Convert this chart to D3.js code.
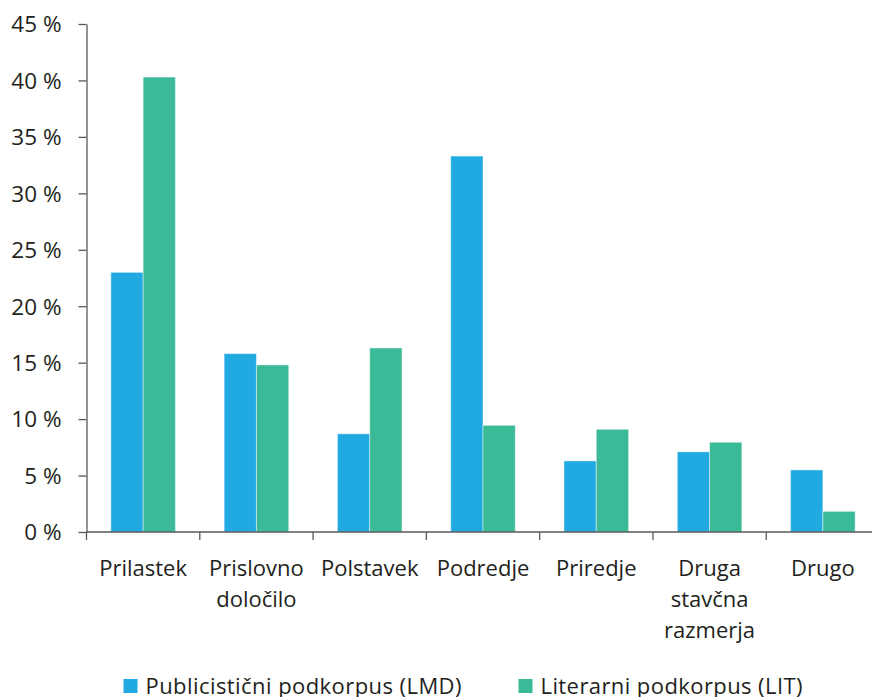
<!DOCTYPE html>
<html>
<head>
<meta charset="utf-8">
<script src="https://cdn.jsdelivr.net/npm/d3@7"></script>
<style>
  html, body { margin: 0; padding: 0; background: #fff; }
  svg { display: block; }
  text { font-family: "Open Sans", sans-serif; fill: #231f20; }
</style>
</head>
<body>
<svg id="chart" width="872" height="697"></svg>
<script>
// Categories (line breaks mark wrapped labels)
const categories = ["Prilastek", "Prislovno|določilo", "Polstavek", "Podredje", "Priredje", "Druga|stavčna|razmerja", "Drugo"];
const seriesNames = ["Publicistični podkorpus (LMD)", "Literarni podkorpus (LIT)"];
const lmdValues = [23.0, 15.8, 8.7, 33.3, 6.3, 7.1, 5.5];
const litValues = [40.3, 14.8, 16.3, 9.45, 9.1, 7.95, 1.83];
const yTicks = [0, 5, 10, 15, 20, 25, 30, 35, 40, 45];
const colors = ["#21a9e1", "#3aba96"];

const svg = d3.select("#chart");
const plotLeft = 86.5, plotRight = 879.5, plotTop = 24, plotBottom = 532;

const x = d3.scaleBand().domain(categories).range([plotLeft, plotRight]).padding(0);
const y = d3.scaleLinear().domain([0, 45]).range([plotBottom, plotTop]);
const barW = x.bandwidth() * 0.285;
const x1 = d3.scaleBand().domain([0, 1]).range([0, barW * 2]);

const rows = categories.map((c, i) => ({ cat: c, vals: [lmdValues[i], litValues[i]] }));

// Bars
const groups = svg.append("g").selectAll("g").data(rows).join("g")
  .attr("transform", d => `translate(${x(d.cat) + (x.bandwidth() - barW * 2) / 2},0)`);
groups.selectAll("rect").data(d => d.vals.map((v, k) => ({ v, k }))).join("rect")
  .attr("x", d => x1(d.k))
  .attr("y", d => y(d.v))
  .attr("width", x1.bandwidth())
  .attr("height", d => plotBottom - y(d.v))
  .attr("fill", d => colors[d.k])
  .attr("stroke", "rgba(255,255,255,0.45)")
  .attr("stroke-width", 1);

// Y axis
const yAxis = svg.append("g").attr("transform", `translate(${plotLeft},0)`)
  .call(d3.axisLeft(y).tickValues(yTicks).tickFormat(d => d + " %").tickSize(8).tickSizeOuter(0));
yAxis.select(".domain").attr("stroke", "#595959").attr("stroke-width", 1.3);
yAxis.selectAll(".tick line").attr("stroke", "#595959").attr("stroke-width", 1.3);
yAxis.selectAll(".tick text").attr("x", -25).attr("dy", "0.35em")
  .style("font-size", "22.5px").style("font-family", "'Open Sans', sans-serif").attr("fill", "#231f20");

// X axis with ticks at category boundaries
const xAxisG = svg.append("g");
xAxisG.append("line").attr("x1", plotLeft).attr("x2", plotRight).attr("y1", plotBottom).attr("y2", plotBottom)
  .attr("stroke", "#595959").attr("stroke-width", 1.3);
const bounds = categories.map(c => x(c)).concat([plotRight]);
xAxisG.selectAll("line.b").data(bounds).join("line").attr("class", "b")
  .attr("x1", d => d).attr("x2", d => d).attr("y1", plotBottom).attr("y2", plotBottom + 8)
  .attr("stroke", "#595959").attr("stroke-width", 1.3);

// Category labels
const labels = svg.append("g").selectAll("text").data(categories).join("text")
  .attr("text-anchor", "middle")
  .attr("x", d => x(d) + x.bandwidth() / 2)
  .attr("y", 576)
  .style("font-size", "22px");
labels.selectAll("tspan").data(d => d.split("|")).join("tspan")
  .attr("x", function () { return d3.select(this.parentNode).attr("x"); })
  .attr("dy", (d, i) => i === 0 ? 0 : 31)
  .text(d => d);

// Legend
const legendX = [123.5, 518.5];
const legendLen = [316, 262];
const leg = svg.append("g").selectAll("g").data(seriesNames).join("g")
  .attr("transform", (d, i) => `translate(${legendX[i]},0)`);
leg.append("rect").attr("x", 0).attr("y", 679).attr("width", 14).attr("height", 14)
  .attr("fill", (d, i) => colors[i]);
leg.append("text").attr("x", 22).attr("y", 693.5)
  .attr("textLength", (d, i) => legendLen[i]).attr("lengthAdjust", "spacing")
  .style("font-size", "22px").text(d => d);
</script>
</body>
</html>
